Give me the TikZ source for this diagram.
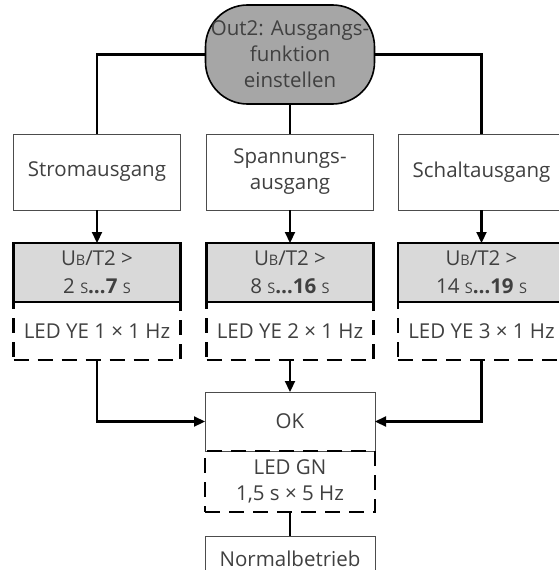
\documentclass[tikz,border=0pt]{standalone}
\usepackage{fontspec}
\setmainfont{Open Sans}
\usepackage{xcolor}
\usepackage{tikz}
\usetikzlibrary{positioning, arrows.meta}

\newcommand{\tinycap}[1]{{\fontsize{14.5}{14.5}\selectfont #1}}

\begin{document}
\begin{tikzpicture}[
    x=1pt, y=-1pt,
    node distance=0pt,
    every node/.style={font=\fontsize{20.5}{26}\selectfont, text=black!75, align=center, outer sep=0pt, inner sep=0pt},
    start/.style={draw, line width=1.6pt, fill=black!35, rounded corners=42pt, minimum width=169pt, minimum height=99pt},
    block/.style={draw=black!70, line width=0.8pt, minimum width=167pt, minimum height=76pt},
    timebox/.style={draw, line width=2.2pt, fill=black!15, minimum width=167pt, minimum height=59pt, font=\fontsize{20.5}{28}\selectfont},
    ledbox/.style={draw, line width=2.2pt, dash pattern=on 15pt off 9pt, minimum width=167pt, minimum height=58pt},
    line/.style={line width=2.2pt},
    arrow/.style={line, -{Triangle[length=11pt, width=10pt]}}
]

\useasboundingbox (0,0) rectangle (559,570);
\clip (0,0) rectangle (559,570);

% Start
\node[start] (out) at (290,54.5) {Out2: Ausgangs-\\funktion\\einstellen};

% Ausgangsarten
\node[block] (strom) at (97,172) {Stromausgang};
\node[block] (spann) at (290,172) {Spannungs-\\ausgang};
\node[block] (schalt) at (481.5,172) {Schaltausgang};

% Zeitfenster
\node[timebox, below=33pt of strom] (t1) {U\tinycap{B}/T2 >\\2 \tinycap{S}\textbf{…7} \tinycap{S}};
\node[timebox, below=33pt of spann] (t2) {U\tinycap{B}/T2 >\\8 \tinycap{S}\textbf{…16} \tinycap{S}};
\node[timebox, below=33pt of schalt] (t3) {U\tinycap{B}/T2 >\\14 \tinycap{S}\textbf{…19} \tinycap{S}};

% LED-Anzeige
\node[ledbox, below=0pt of t1] (led1) {LED YE 1 × 1 Hz};
\node[ledbox, below=0pt of t2] (led2) {LED YE 2 × 1 Hz};
\node[ledbox, below=0pt of t3] (led3) {LED YE 3 × 1 Hz};

% Abschluss
\node[block, minimum width=170pt, minimum height=59pt] (ok) at (290,421.5) {OK};
\node[ledbox, minimum width=170pt, minimum height=61pt, below=0pt of ok] (ledgn) {LED GN\\1,5 s × 5 Hz};
\node[block, minimum width=170pt, minimum height=45pt, below=24pt of ledgn] (normal) {Normalbetrieb};

\draw[line] (out.west) -| (strom.north);
\draw[line] (out.east) -| (schalt.north);
\draw[line] (out.south) -- (spann.north);
\draw[arrow] (strom.south) -- (t1.north);
\draw[arrow] (spann.south) -- (t2.north);
\draw[arrow] (schalt.south) -- (t3.north);
\draw[arrow] (led1.south) |- (ok.west);
\draw[arrow] (led2.south) -- (ok.north);
\draw[arrow] (led3.south) |- (ok.east);
\draw[line] (ledgn.south) -- (normal.north);

\end{tikzpicture}
\end{document}
